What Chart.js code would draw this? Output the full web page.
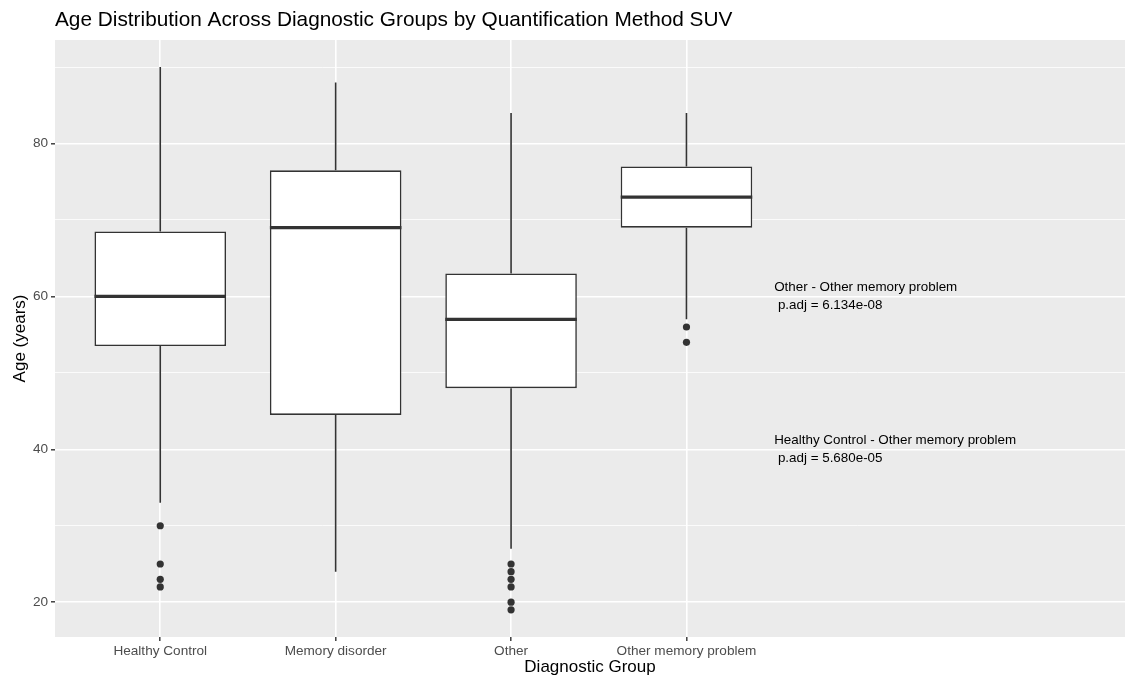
<!DOCTYPE html>
<html>
<head>
<meta charset="utf-8">
<script src="https://cdn.jsdelivr.net/npm/chart.js@4.4.1/dist/chart.umd.min.js"></script>
<style>
  body { margin: 0; background: #fff; }
  #wrap { width: 1129px; height: 676px; }
</style>
</head>
<body>
<div id="wrap"><canvas id="myChart" width="1129" height="676"></canvas></div>
<script>
// boxplot summary per diagnostic group
var categories = ["Healthy Control", "Memory disorder", "Other", "Other memory problem"];
var whiskerLow = [33, 24, 27, 57];
var q1 = [53.5, 44.5, 48, 69];
var median = [60, 69, 57, 73];
var q3 = [68.5, 76.5, 63, 77];
var whiskerHigh = [90, 88, 84, 84];
var outliers = [[30, 25, 23, 22], [], [25, 24, 23, 22, 20, 19], [56, 54]];

var yMajor = [20, 40, 60, 80];
var yMinor = [30, 50, 70, 90];

// Tukey test labels, placed at x = 4.5 (between groups 4 and 5)
var noteX = 4.5;
var noteY = [60, 40];
var noteText = [
  ["Other - Other memory problem", " p.adj = 6.134e-08"],
  ["Healthy Control - Other memory problem", " p.adj = 5.680e-05"]
];

var FONT = "'Liberation Sans', Arial, Helvetica, sans-serif";
var INK = "#333333";

var boxData = categories.map(function(c, i) {
  return { x: i + 1, y: [q1[i], q3[i]] };
});
var outlierData = [];
outliers.forEach(function(list, i) {
  list.forEach(function(v) { outlierData.push({ x: i + 1, y: v }); });
});

// grey panel like ggplot
var panelBg = {
  id: "panelBg",
  beforeDraw: function(chart) {
    var a = chart.chartArea, ctx = chart.ctx;
    ctx.save();
    ctx.fillStyle = "#EBEBEB";
    ctx.fillRect(a.left, a.top, a.right - a.left, a.bottom - a.top);
    ctx.restore();
  }
};

var boxParts = {
  id: "boxParts",
  beforeDatasetsDraw: function(chart) {
    var xs = chart.scales.x, ys = chart.scales.y, ctx = chart.ctx;
    ctx.save();
    ctx.strokeStyle = INK;
    ctx.lineWidth = 1.6;
    for (var i = 0; i < categories.length; i++) {
      var px = xs.getPixelForValue(i + 1);
      ctx.beginPath();
      ctx.moveTo(px, ys.getPixelForValue(q3[i]));
      ctx.lineTo(px, ys.getPixelForValue(whiskerHigh[i]));
      ctx.moveTo(px, ys.getPixelForValue(q1[i]));
      ctx.lineTo(px, ys.getPixelForValue(whiskerLow[i]));
      ctx.stroke();
    }
    ctx.restore();
  },
  afterDatasetsDraw: function(chart) {
    var xs = chart.scales.x, ys = chart.scales.y, ctx = chart.ctx;
    var meta = chart.getDatasetMeta(0);
    ctx.save();
    ctx.strokeStyle = INK;
    ctx.lineWidth = 3.2;
    meta.data.forEach(function(bar, i) {
      var half = bar.width / 2;
      var py = ys.getPixelForValue(median[i]);
      ctx.beginPath();
      ctx.moveTo(bar.x - half, py);
      ctx.lineTo(bar.x + half, py);
      ctx.stroke();
    });
    // annotations
    ctx.fillStyle = "#000";
    ctx.font = "13.4px " + FONT;
    ctx.textAlign = "left";
    ctx.textBaseline = "middle";
    var x0 = xs.getPixelForValue(noteX);
    noteText.forEach(function(lines, k) {
      var cy = ys.getPixelForValue(noteY[k]);
      ctx.fillText(lines[0], x0, cy - 9.3);
      ctx.fillText(lines[1], x0, cy + 9.3);
    });
    ctx.restore();
  }
};

var ctx = document.getElementById("myChart").getContext("2d");
var chart = new Chart(ctx, {
  type: "bar",
  data: {
    datasets: [
      {
        type: "bar",
        data: boxData,
        backgroundColor: "#FFFFFF",
        borderColor: INK,
        borderWidth: 1.6,
        borderSkipped: false,
        barPercentage: 0.75,
        categoryPercentage: 1,
        order: 2
      },
      {
        type: "scatter",
        data: outlierData,
        backgroundColor: INK,
        borderWidth: 0,
        pointRadius: 3.6,
        order: 1
      }
    ]
  },
  options: {
    responsive: false,
    animation: false,
    layout: { padding: { top: 0, right: 0, bottom: 0, left: 0 } },
    plugins: {
      legend: { display: false },
      tooltip: { enabled: false },
      title: {
        display: true,
        text: "Age Distribution Across Diagnostic Groups by Quantification Method SUV",
        align: "start",
        fullSize: false,
        color: "#000",
        font: { family: FONT, size: 20.8, weight: "normal" },
        padding: { top: 8, bottom: 7 }
      }
    },
    scales: {
      x: {
        type: "linear",
        min: 0.4,
        max: 6.5,
        offset: false,
        afterBuildTicks: function(s) {
          s.ticks = categories.map(function(c, i) { return { value: i + 1 }; });
        },
        afterFit: function(s) { s.height = 39; },
        ticks: {
          autoSkip: false,
          maxRotation: 0,
          color: "#4D4D4D",
          font: { family: FONT, size: 13.6 },
          padding: 2,
          callback: function(v) { return categories[v - 1]; }
        },
        grid: {
          offset: false,
          color: "#FFFFFF",
          lineWidth: 1.6,
          tickLength: 4,
          tickColor: INK,
          tickWidth: 1.4
        },
        border: { display: false },
        title: {
          display: true,
          text: "Diagnostic Group",
          color: "#000",
          font: { family: FONT, size: 17, lineHeight: 1 },
          padding: { top: 0, bottom: 0 }
        }
      },
      y: {
        min: 15.45,
        max: 93.55,
        afterBuildTicks: function(s) {
          s.ticks = yMajor.concat(yMinor).sort(function(a, b) { return a - b; })
            .map(function(v) { return { value: v }; });
        },
        afterFit: function(s) { s.width = 55; },
        ticks: {
          autoSkip: false,
          color: "#4D4D4D",
          font: { family: FONT, size: 13.6 },
          padding: 3,
          callback: function(v) { return yMajor.indexOf(v) >= 0 ? String(v) : ""; }
        },
        grid: {
          color: "#FFFFFF",
          lineWidth: function(c) { return yMajor.indexOf(c.tick.value) >= 0 ? 1.6 : 0.8; },
          tickLength: 4,
          tickColor: function(c) { return yMajor.indexOf(c.tick.value) >= 0 ? INK : "rgba(0,0,0,0)"; },
          tickWidth: 1.4
        },
        border: { display: false },
        title: {
          display: true,
          text: "Age (years)",
          color: "#000",
          font: { family: FONT, size: 17, lineHeight: 1 },
          padding: { top: 12, bottom: 0 }
        }
      }
    }
  },
  plugins: [panelBg, boxParts]
});
</script>
</body>
</html>
